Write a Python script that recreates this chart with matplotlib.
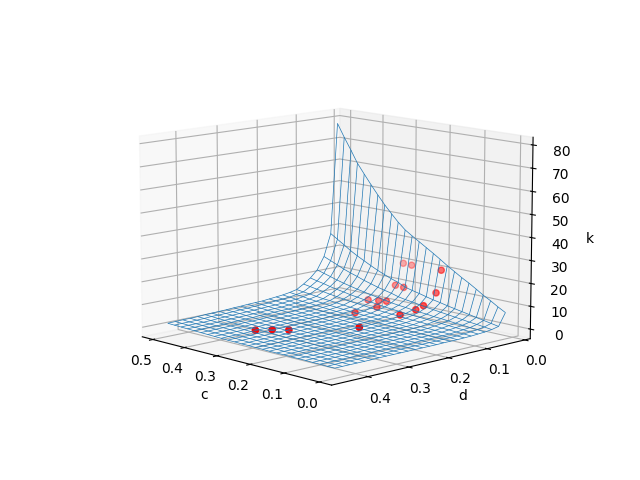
import numpy as np
import matplotlib
matplotlib.use("Agg")
import matplotlib.pyplot as plt
from mpl_toolkits.mplot3d import Axes3D

# grid of the fitted surface
c_grid = [0.000, 0.021, 0.042, 0.063, 0.083, 0.104, 0.125, 0.146, 0.167, 0.188, 0.208, 0.229, 0.250,
          0.271, 0.292, 0.313, 0.333, 0.354, 0.375, 0.396, 0.417, 0.438, 0.458, 0.479, 0.500]
d_grid = [0.020, 0.038, 0.056, 0.074, 0.092, 0.110, 0.128, 0.146, 0.164, 0.181, 0.199, 0.217, 0.235,
          0.253, 0.271, 0.289, 0.307, 0.325, 0.343, 0.360, 0.378, 0.396, 0.414, 0.432, 0.450]

# k, one row per d
k_grid = [
    [7.4, 9.2, 11.2, 13.0, 15.0, 17.0, 18.8, 20.8, 22.8, 25.0, 27.0, 29.0, 31.0, 33.0, 35.1, 38.0, 41.2, 44.7, 48.6, 52.7, 57.0, 61.4, 66.8, 72.2, 78.0],
    [2.0, 2.6, 3.2, 3.8, 4.4, 5.0, 5.6, 6.2, 6.9, 7.5, 8.2, 9.0, 9.7, 10.5, 12.0, 13.0, 14.2, 15.5, 17.0, 18.6, 20.2, 22.0, 24.0, 26.0, 28.0],
    [1.3, 1.7, 2.1, 2.4, 2.8, 3.2, 3.6, 4.0, 4.4, 4.8, 5.3, 5.8, 6.2, 6.8, 7.7, 8.4, 9.1, 10.0, 10.9, 12.0, 13.0, 14.1, 15.4, 16.7, 18.0],
    [0.9, 1.2, 1.4, 1.7, 1.9, 2.2, 2.5, 2.7, 3.1, 3.3, 3.6, 4.0, 4.3, 4.7, 5.3, 5.8, 6.3, 6.9, 7.5, 8.2, 8.9, 9.7, 10.6, 11.5, 12.4],
    [0.7, 0.9, 1.1, 1.3, 1.5, 1.7, 1.9, 2.1, 2.3, 2.5, 2.7, 3.0, 3.2, 3.5, 4.0, 4.3, 4.7, 5.2, 5.6, 6.2, 6.7, 7.3, 8.0, 8.6, 9.3],
    [0.5, 0.7, 0.8, 1.0, 1.1, 1.3, 1.4, 1.6, 1.7, 1.9, 2.1, 2.3, 2.5, 2.7, 3.0, 3.3, 3.6, 3.9, 4.3, 4.7, 5.1, 5.6, 6.1, 6.6, 7.1],
    [0.4, 0.5, 0.6, 0.7, 0.8, 0.9, 1.0, 1.1, 1.3, 1.4, 1.5, 1.7, 1.8, 2.0, 2.2, 2.4, 2.6, 2.9, 3.2, 3.5, 3.7, 4.1, 4.5, 4.8, 5.2],
    [0.3, 0.4, 0.5, 0.6, 0.7, 0.8, 0.9, 1.0, 1.1, 1.2, 1.3, 1.4, 1.6, 1.7, 1.9, 2.1, 2.3, 2.5, 2.7, 3.0, 3.2, 3.5, 3.9, 4.2, 4.5],
    [0.3, 0.4, 0.5, 0.5, 0.6, 0.7, 0.8, 0.9, 1.0, 1.1, 1.2, 1.3, 1.4, 1.5, 1.7, 1.9, 2.0, 2.2, 2.4, 2.7, 2.9, 3.1, 3.4, 3.7, 4.0],
    [0.3, 0.3, 0.4, 0.5, 0.6, 0.7, 0.7, 0.8, 0.9, 1.0, 1.1, 1.2, 1.3, 1.4, 1.6, 1.7, 1.9, 2.0, 2.2, 2.5, 2.7, 2.9, 3.2, 3.4, 3.7],
    [0.2, 0.3, 0.4, 0.5, 0.5, 0.6, 0.7, 0.8, 0.8, 0.9, 1.0, 1.1, 1.2, 1.3, 1.5, 1.6, 1.7, 1.9, 2.1, 2.3, 2.5, 2.7, 2.9, 3.2, 3.4],
    [0.2, 0.3, 0.4, 0.4, 0.5, 0.6, 0.6, 0.7, 0.8, 0.8, 0.9, 1.0, 1.1, 1.2, 1.3, 1.4, 1.6, 1.7, 1.9, 2.1, 2.2, 2.4, 2.7, 2.9, 3.1],
    [0.2, 0.3, 0.3, 0.4, 0.5, 0.5, 0.6, 0.7, 0.7, 0.8, 0.9, 1.0, 1.0, 1.1, 1.3, 1.4, 1.5, 1.7, 1.8, 2.0, 2.2, 2.4, 2.6, 2.8, 3.0],
    [0.2, 0.3, 0.3, 0.4, 0.5, 0.5, 0.6, 0.6, 0.7, 0.8, 0.8, 0.9, 1.0, 1.1, 1.2, 1.3, 1.5, 1.6, 1.8, 1.9, 2.1, 2.3, 2.5, 2.7, 2.9],
    [0.2, 0.3, 0.3, 0.4, 0.4, 0.5, 0.5, 0.6, 0.7, 0.7, 0.8, 0.9, 0.9, 1.0, 1.2, 1.3, 1.4, 1.5, 1.6, 1.8, 1.9, 2.1, 2.3, 2.5, 2.7],
    [0.2, 0.2, 0.3, 0.4, 0.4, 0.5, 0.5, 0.6, 0.6, 0.7, 0.8, 0.8, 0.9, 1.0, 1.1, 1.2, 1.3, 1.4, 1.6, 1.7, 1.9, 2.0, 2.2, 2.4, 2.6],
    [0.2, 0.2, 0.3, 0.3, 0.4, 0.4, 0.5, 0.5, 0.6, 0.6, 0.7, 0.8, 0.8, 0.9, 1.0, 1.1, 1.2, 1.3, 1.5, 1.6, 1.7, 1.9, 2.1, 2.2, 2.4],
    [0.2, 0.2, 0.3, 0.3, 0.4, 0.4, 0.5, 0.5, 0.6, 0.6, 0.7, 0.7, 0.8, 0.9, 1.0, 1.1, 1.2, 1.3, 1.4, 1.5, 1.7, 1.8, 2.0, 2.1, 2.3],
    [0.2, 0.2, 0.3, 0.3, 0.3, 0.4, 0.4, 0.5, 0.5, 0.6, 0.6, 0.7, 0.8, 0.8, 0.9, 1.0, 1.1, 1.2, 1.3, 1.5, 1.6, 1.7, 1.9, 2.0, 2.2],
    [0.1, 0.2, 0.2, 0.3, 0.3, 0.4, 0.4, 0.5, 0.5, 0.6, 0.6, 0.7, 0.7, 0.8, 0.9, 1.0, 1.1, 1.2, 1.3, 1.4, 1.5, 1.7, 1.8, 2.0, 2.1],
    [0.1, 0.2, 0.2, 0.3, 0.3, 0.3, 0.4, 0.4, 0.5, 0.5, 0.6, 0.6, 0.7, 0.7, 0.8, 0.9, 1.0, 1.1, 1.2, 1.3, 1.4, 1.5, 1.6, 1.8, 1.9],
    [0.1, 0.2, 0.2, 0.2, 0.3, 0.3, 0.4, 0.4, 0.4, 0.5, 0.5, 0.6, 0.6, 0.7, 0.8, 0.8, 0.9, 1.0, 1.1, 1.2, 1.3, 1.4, 1.5, 1.7, 1.8],
    [0.1, 0.2, 0.2, 0.2, 0.3, 0.3, 0.4, 0.4, 0.4, 0.5, 0.5, 0.6, 0.6, 0.7, 0.8, 0.8, 0.9, 1.0, 1.1, 1.2, 1.3, 1.4, 1.5, 1.6, 1.8],
    [0.1, 0.2, 0.2, 0.2, 0.3, 0.3, 0.3, 0.4, 0.4, 0.5, 0.5, 0.5, 0.6, 0.6, 0.7, 0.8, 0.9, 0.9, 1.0, 1.1, 1.2, 1.3, 1.5, 1.6, 1.7],
    [0.1, 0.1, 0.2, 0.2, 0.3, 0.3, 0.3, 0.4, 0.4, 0.4, 0.5, 0.5, 0.6, 0.6, 0.7, 0.7, 0.8, 0.9, 1.0, 1.1, 1.2, 1.3, 1.4, 1.5, 1.6],
]

# measured points
c_pts = [0.336, 0.316, 0.290, 0.185, 0.271, 0.252, 0.18, 0.170, 0.163, 0.162, 0.167, 0.270, 0.252, 0.256, 0.235, 0.284, 0.258, 0.243]
d_pts = [0.365, 0.340, 0.320, 0.232, 0.169, 0.129, 0.132, 0.10, 0.086, 0.054, 0.036, 0.044, 0.038, 0.077, 0.074, 0.124, 0.119, 0.112]
k_pts = [1, 1, 1, 2.5, 3.7, 5.4, 4.4, 5.9, 7.4, 12.0, 21.3, 21.5, 21.0, 13.2, 12.8, 7.4, 7.7, 7.7]

C, D = np.meshgrid(c_grid, d_grid)
K = np.array(k_grid)

fig = plt.figure()
ax = fig.add_subplot(111, projection='3d')
ax.plot_wireframe(C, D, K, linewidth=0.5)
ax.scatter(c_pts, d_pts, k_pts, c='r')
ax.set_xlabel('c', labelpad=-2)
ax.set_ylabel('d', labelpad=-2)
ax.set_zlabel('k', labelpad=-0.5)
ax.set_xlim(-0.034, 0.534)
ax.set_ylim(-0.015, 0.486)
ax.set_zlim(-4.2, 83.3)
ax.set_xticks([0.0, 0.1, 0.2, 0.3, 0.4, 0.5])
ax.set_yticks([0.0, 0.1, 0.2, 0.3, 0.4])
ax.set_zticks([0, 10, 20, 30, 40, 50, 60, 70, 80])
ax.tick_params(axis='x', pad=0)
ax.tick_params(axis='y', pad=0)
ax.tick_params(axis='z', pad=2)
ax.view_init(11, 136.2)
ax.set_proj_type('persp', focal_length=1.35)
ax.set_box_aspect((4, 4, 2.965), zoom=1.159)
ax.set_position([0.125 + 3 / 640, 0.11 - 0.5 / 480, 0.775, 0.77])
plt.savefig('out.png')
